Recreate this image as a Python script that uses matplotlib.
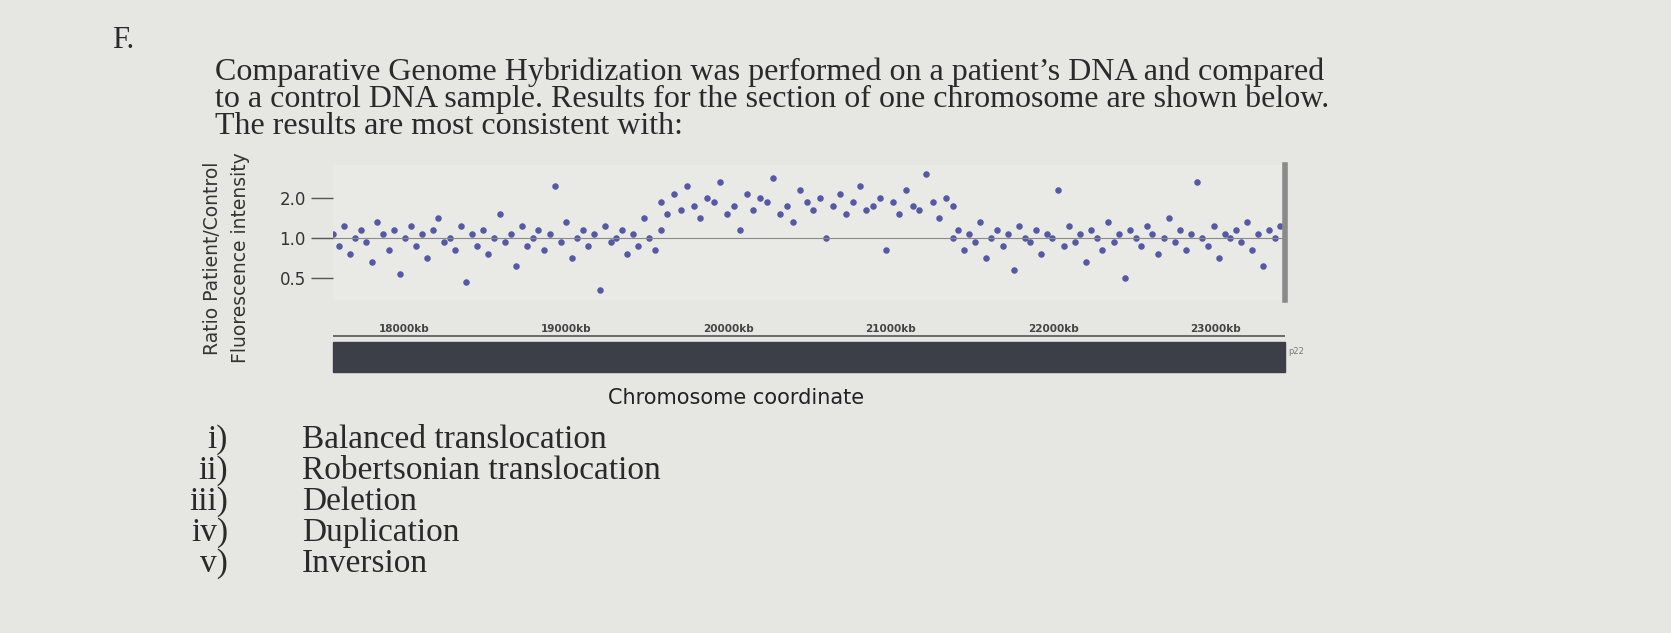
import matplotlib.pyplot as plt
import numpy as np
from matplotlib.patches import Rectangle

plt.rcParams['font.family'] = ['DejaVu Sans']

# probe log2 ratios (patient/control), three segments
seg1_log2 = [0.1, -0.2, 0.3, -0.4, 0.0, 0.2, -0.1, -0.6, 0.4, 0.1, -0.3, 0.2, -0.9, 0.0, 0.3,
             -0.2, 0.1, -0.5, 0.2, 0.5, -0.1, 0.0, -0.3, 0.3, -1.1, 0.1, -0.2, 0.2, -0.4, 0.0,
             0.6, -0.1, 0.1, -0.7, 0.3, -0.2, 0.0, 0.2, -0.3, 0.1, 1.3, -0.1, 0.4, -0.5, 0.0,
             0.2, -0.2, 0.1, -1.3, 0.3, -0.1, 0.0, 0.2, -0.4, 0.1, -0.2, 0.5, 0.0, -0.3, 0.2]
seg2_log2 = [0.9, 0.6, 1.1, 0.7, 1.3, 0.8, 0.5, 1.0, 0.9, 1.4, 0.6, 0.8, 0.2, 1.1, 0.7,
             1.0, 0.9, 1.5, 0.6, 0.8, 0.4, 1.2, 0.9, 0.7, 1.0, 0.0, 0.8, 1.1, 0.6, 0.9,
             1.3, 0.7, 0.8, 1.0, -0.3, 0.9, 0.6, 1.2, 0.8, 0.7, 1.6, 0.9, 0.5, 1.0, 0.8]
seg3_log2 = [0.0, 0.2, -0.3, 0.1, -0.1, 0.4, -0.5, 0.0, 0.2, -0.2, 0.1, -0.8, 0.3, 0.0, -0.1,
             0.2, -0.4, 0.1, 0.0, 1.2, -0.2, 0.3, -0.1, 0.1, -0.6, 0.2, 0.0, -0.3, 0.4, -0.1,
             0.1, -1.0, 0.2, 0.0, -0.2, 0.3, 0.1, -0.4, 0.0, 0.5, -0.1, 0.2, -0.3, 0.1, 1.4,
             0.0, -0.2, 0.3, -0.5, 0.1, 0.0, 0.2, -0.1, 0.4, -0.3, 0.1, -0.7, 0.2, 0.0, 0.3]
seg_bounds_kb = [(17560, 19580), (19580, 21380), (21380, 23400)]

ytick_vals = [2.0, 1.0, 0.5]
ytick_labels = ['2.0', '1.0', '0.5']
ruler_kb = [18000, 19000, 20000, 21000, 22000, 23000]
ruler_labels = ['18000kb', '19000kb', '20000kb', '21000kb', '22000kb', '23000kb']
options = ['i)', 'ii)', 'iii)', 'iv)', 'v)']
option_text = ['Balanced translocation', 'Robertsonian translocation', 'Deletion',
               'Duplication', 'Inversion']
question = ["Comparative Genome Hybridization was performed on a patient\u2019s DNA and compared",
            "to a control DNA sample. Results for the section of one chromosome are shown below.",
            "The results are most consistent with:"]

W, H = 1671, 633
fig = plt.figure(figsize=(W / 100, H / 100), dpi=100)
fig.patch.set_facecolor('#e6e6e3')

def fx(px):
    return px / W

def fy(py):
    return 1 - py / H

serif = ['Liberation Serif', 'DejaVu Serif']
fig.text(fx(112), fy(40), 'F.', family=serif, fontsize=22, color='#2a2a2a', va='center')
for i, line in enumerate(question):
    fig.text(fx(215), fy(72 + i * 27), line, family=serif, fontsize=23,
             color='#2a2a2a', va='center')

# scatter panel
ax = fig.add_axes([fx(333), fy(300), fx(1285 - 333), (300 - 165) / H])
ax.set_facecolor('#e9e9e6')
for (x0, x1), vals in zip(seg_bounds_kb, [seg1_log2, seg2_log2, seg3_log2]):
    xs = np.linspace(x0, x1, len(vals))
    ax.scatter(xs, vals, s=22, color='#3b3f9a', alpha=0.85, linewidths=0)
ax.axhline(0, color='#8a8a8a', lw=0.8)
ax.set_xlim(17560, 23430)
ax.set_ylim(-1.55, 1.83)
ax.set_yticks(np.log2(ytick_vals))
ax.set_yticklabels(ytick_labels, fontsize=12, color='#333333')
ax.tick_params(axis='y', length=16, width=1, color='#555555')
ax.set_xticks([])
for s in ['top', 'bottom', 'left']:
    ax.spines[s].set_visible(False)
ax.spines['right'].set_color('#8a8a8a')
ax.spines['right'].set_linewidth(4)

# ruler
rax = fig.add_axes([fx(333), fy(340), fx(1285 - 333), 20 / H])
rax.set_xlim(17560, 23430)
rax.set_ylim(0, 1)
rax.axhline(0.2, color='#555555', lw=1.2)
for kb, lab in zip(ruler_kb, ruler_labels):
    rax.text(kb, 0.55, lab, fontsize=7.5, fontweight='bold', color='#444444',
             ha='center', va='center')
rax.axis('off')

# chromosome bar
fig.patches.append(Rectangle((fx(333), fy(372)), fx(1285 - 333), 30 / H,
                             transform=fig.transFigure, color='#3c3e48'))
fig.text(fx(1288), fy(352), 'p22', fontsize=6, color='#777777', va='center')

fig.text(fx(212), fy(258), 'Ratio Patient/Control', rotation=90, fontsize=13.5,
         color='#333333', ha='center', va='center')
fig.text(fx(240), fy(258), 'Fluorescence intensity', rotation=90, fontsize=13.5,
         color='#333333', ha='center', va='center')
fig.text(fx(736), fy(398), 'Chromosome coordinate', fontsize=15, color='#222222',
         ha='center', va='center')

for i, (o, t) in enumerate(zip(options, option_text)):
    y = fy(440 + i * 31)
    fig.text(fx(228), y, o, family=serif, fontsize=24, color='#2a2a2a', ha='right', va='center')
    fig.text(fx(302), y, t, family=serif, fontsize=24, color='#2a2a2a', va='center')

fig.savefig('out.png', dpi=100, facecolor=fig.get_facecolor())
